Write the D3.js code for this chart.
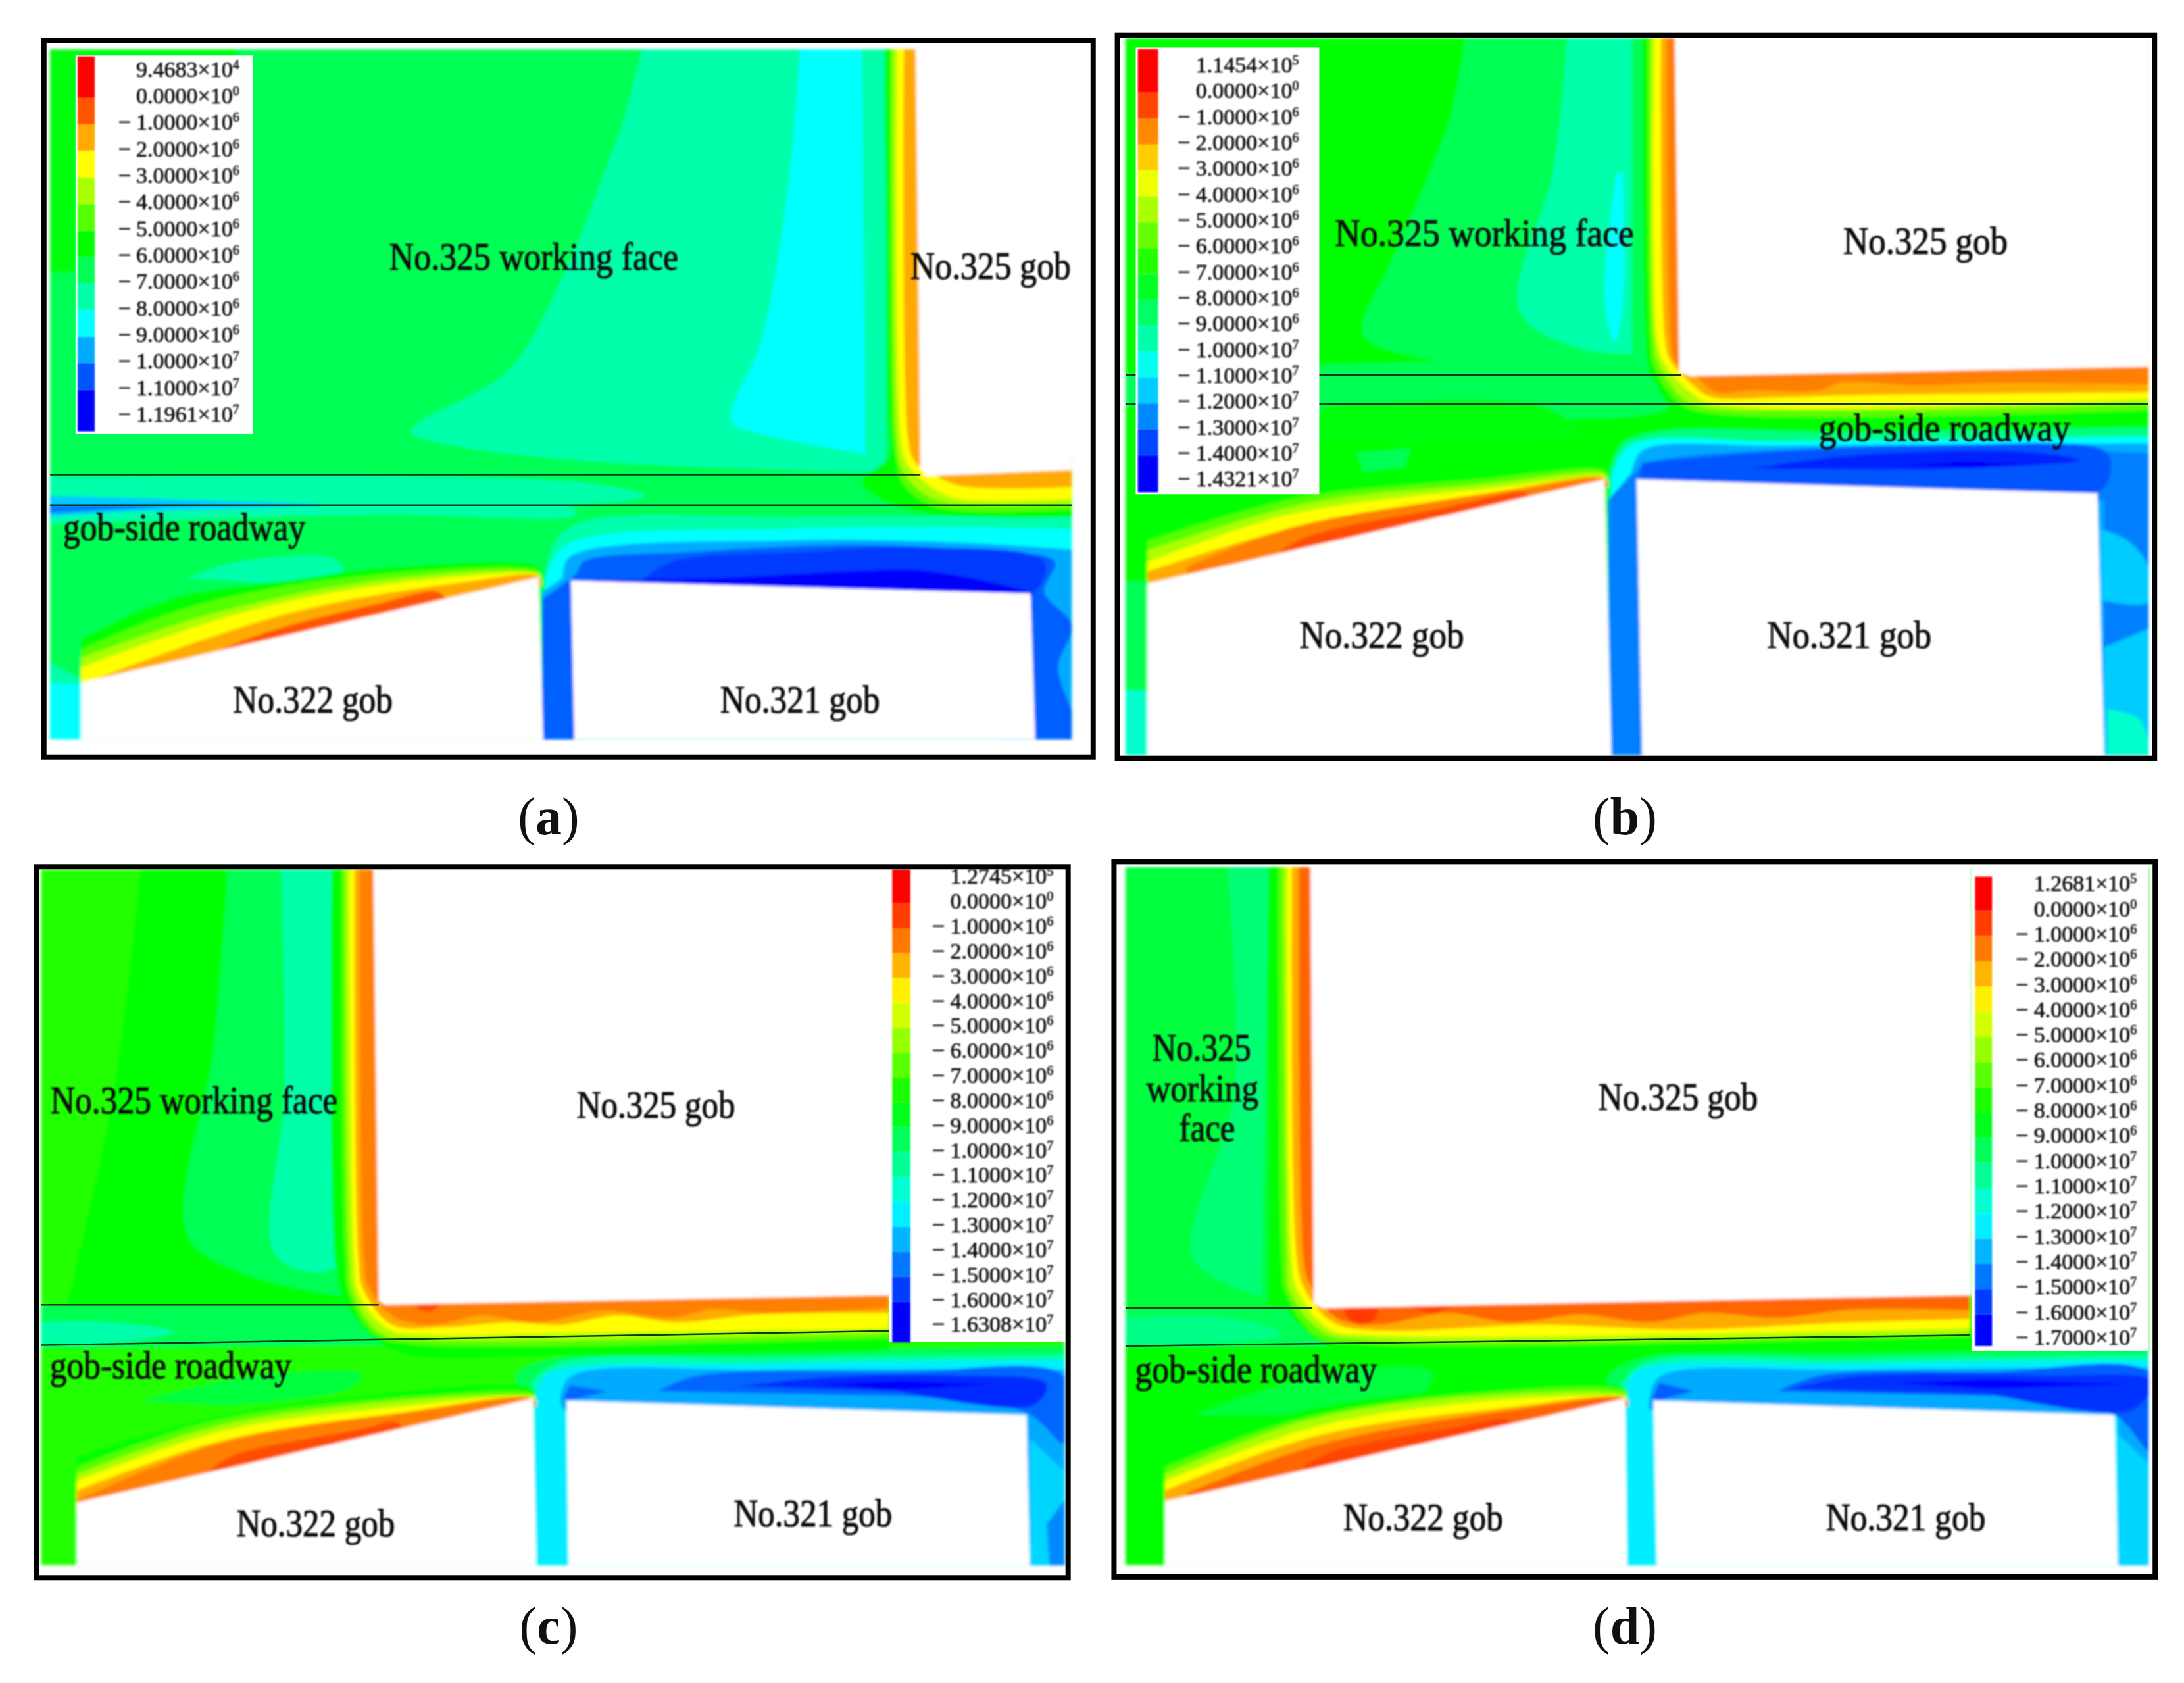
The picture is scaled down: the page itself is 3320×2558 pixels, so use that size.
<!DOCTYPE html>
<html>
<head>
<meta charset="utf-8">
<script src="https://cdn.jsdelivr.net/npm/d3@7"></script>
<style>
  html, body { margin: 0; background: #fff; }
  text { font-family: "Liberation Serif", serif; fill: #101010; }
</style>
</head>
<body>
<svg id="chart"></svg>
<script>
// Stress labels of each contour legend, top to bottom: [mantissa, exponent]
const legendValuesA = [['9.4683',4],['0.0000',0],['− 1.0000',6],['− 2.0000',6],['− 3.0000',6],['− 4.0000',6],['− 5.0000',6],['− 6.0000',6],['− 7.0000',6],['− 8.0000',6],['− 9.0000',6],['− 1.0000',7],['− 1.1000',7],['− 1.1961',7]];
const legendValuesB = [['1.1454',5],['0.0000',0],['− 1.0000',6],['− 2.0000',6],['− 3.0000',6],['− 4.0000',6],['− 5.0000',6],['− 6.0000',6],['− 7.0000',6],['− 8.0000',6],['− 9.0000',6],['− 1.0000',7],['− 1.1000',7],['− 1.2000',7],['− 1.3000',7],['− 1.4000',7],['− 1.4321',7]];
const legendValuesC = [['1.2745',5],['0.0000',0],['− 1.0000',6],['− 2.0000',6],['− 3.0000',6],['− 4.0000',6],['− 5.0000',6],['− 6.0000',6],['− 7.0000',6],['− 8.0000',6],['− 9.0000',6],['− 1.0000',7],['− 1.1000',7],['− 1.2000',7],['− 1.3000',7],['− 1.4000',7],['− 1.5000',7],['− 1.6000',7],['− 1.6308',7]];
const legendValuesD = [['1.2681',5],['0.0000',0],['− 1.0000',6],['− 2.0000',6],['− 3.0000',6],['− 4.0000',6],['− 5.0000',6],['− 6.0000',6],['− 7.0000',6],['− 8.0000',6],['− 9.0000',6],['− 1.0000',7],['− 1.1000',7],['− 1.2000',7],['− 1.3000',7],['− 1.4000',7],['− 1.5000',7],['− 1.6000',7],['− 1.7000',7]];

// Contour bands: [colour level 0 red .. 12 blue, outline in field units,
// how many trailing outline points lie hidden behind a gob and are joined straight]
const bandsA = [
  [6.2,[[25,35],[295,35],[295,50],[25,50]]],
  [6.2,[[25,35],[62,35],[62,510],[25,510]]],
  [8,[[885,35],[860,180],[830,300],[770,520],[690,720],[560,830],[550,850],[600,875],[760,905],[1000,925],[1240,935],[1240,35]],1],
  [9,[[1115,35],[1100,300],[1060,650],[1015,825],[1050,850],[1210,895],[1205,35]],1],
  [8,[[25,945],[600,945],[820,960],[890,985],[800,1003],[25,1003]]],
  [8,[[25,1005],[780,1008],[790,1025],[500,1025],[25,1045]]],
  [9.6,[[25,985],[260,995],[420,1005],[120,1020],[25,1030]]],
  [10.6,[[25,1005],[250,1003],[100,1015],[25,1022]]],
  [8,[[225,1160],[300,1125],[440,1120],[450,1145],[330,1170]]],
  [8,[[745,1150],[760,1080],[800,1040],[1100,1030],[1510,1030],[1510,1510],[735,1510]],2],
  [9,[[745,1160],[775,1090],[1100,1055],[1510,1055],[1510,1510],[738,1510]],2],
  [10,[[770,1160],[780,1115],[1100,1080],[1350,1085],[1510,1100],[1510,1510],[740,1510],[740,1190]],3],
  [10.9,[[740,1205],[790,1150],[800,1125],[950,1105],[1200,1090],[1400,1105],[1485,1125],[1470,1190],[1510,1260],[1490,1350],[1510,1440],[1510,1510],[1400,1510],[1400,1170],[1000,1170],[800,1510],[740,1510]],6],
  [11.3,[[885,1165],[930,1125],[1120,1105],[1280,1095],[1470,1125],[1450,1195],[1100,1180]]],
  [12,[[785,1165],[1000,1160],[1200,1145],[1300,1145],[1455,1195],[1100,1185]]],
  [6,[[1238,35],[1243,800],[1245,900],[1205,955],[1230,990],[1300,1022],[1510,1030],[1510,900],[1310,900],[1310,35]],3],
  [5,[[1246,35],[1250,850],[1255,910],[1265,960],[1310,1008],[1510,1014],[1510,900],[1310,900],[1310,35]],3],
  [4,[[1250,35],[1255,860],[1262,925],[1290,975],[1330,1000],[1510,1002],[1510,900],[1310,900],[1310,35]],3],
  [3,[[1256,35],[1261,860],[1270,915],[1300,960],[1340,990],[1510,992],[1510,900],[1310,900],[1310,35]],3],
  [2,[[1266,35],[1272,860],[1281,910],[1310,940],[1350,964],[1510,966],[1510,900],[1310,900],[1310,35]],3],
  [6,[[70,1290],[200,1205],[400,1160],[500,1140],[735,1136],[738,1160],[740,1175],[70,1410]],1],
  [5,[[70,1312],[220,1225],[450,1160],[735,1145],[738,1160],[740,1175],[70,1410]],1],
  [4,[[70,1330],[250,1240],[500,1165],[735,1150],[738,1160],[740,1175],[70,1410]],1],
  [3,[[70,1350],[300,1235],[520,1172],[735,1153],[738,1160],[740,1175],[70,1410]],1],
  [2,[[85,1378],[250,1290],[400,1225],[620,1170],[735,1156],[740,1175],[85,1410]],1],
  [1,[[255,1325],[330,1280],[500,1215],[590,1190],[600,1215],[270,1345]]],
  [8,[[25,1340],[70,1375],[70,1400],[25,1400]]],
  [9,[[25,1385],[72,1385],[72,1510],[25,1510]]]
];
const bandsB = [
  [7,[[530,25],[510,180],[480,300],[420,500],[380,650],[470,700],[700,735],[800,735],[790,25]],1],
  [8,[[680,25],[660,300],[610,600],[700,680],[775,690],[775,25]],1],
  [9,[[752,310],[735,580],[750,665],[762,580],[762,310]]],
  [7,[[30,735],[800,735],[830,800],[650,830],[30,800]]],
  [6.2,[[320,800],[640,800],[700,860],[500,880],[300,870]]],
  [7,[[370,900],[450,890],[440,930],[380,940]]],
  [7.5,[[740,950],[760,880],[810,855],[1100,855],[1535,845],[1535,1540],[735,1540]],2],
  [9,[[745,955],[770,885],[1000,875],[1535,865],[1535,1540],[738,1540]],2],
  [10,[[775,940],[790,895],[1000,885],[1535,880],[1535,1540],[740,1540],[740,1000]],3],
  [10.5,[[740,1000],[780,940],[800,920],[1100,890],[1535,900],[1535,1540],[1470,1540],[1470,1000],[790,1000],[790,1540],[745,1540]],6],
  [11,[[790,920],[1000,895],[1200,885],[1470,895],[1480,925],[1460,985],[785,957]]],
  [11.6,[[950,933],[1100,905],[1350,897],[1435,915],[1200,935]]],
  [12,[[1170,925],[1270,917],[1370,925],[1270,932]]],
  [9.6,[[1465,1060],[1505,1085],[1535,1140],[1535,1215],[1465,1210]]],
  [9.6,[[1470,1310],[1535,1270],[1535,1540],[1470,1540]]],
  [8.4,[[1475,1440],[1520,1460],[1535,1510],[1535,1540],[1475,1540]]],
  [6,[[790,25],[795,660],[800,720],[825,790],[850,830],[1000,830],[1535,828],[1535,700],[860,700],[860,25]],3],
  [5,[[798,25],[802,660],[808,720],[840,790],[880,815],[1535,810],[1535,700],[860,700],[860,25]],3],
  [4,[[803,25],[807,660],[815,715],[850,785],[880,803],[1535,797],[1535,700],[860,700],[860,25]],3],
  [3,[[808,25],[812,660],[822,710],[860,770],[890,795],[1535,786],[1535,700],[860,700],[860,25]],3],
  [2,[[818,25],[824,660],[832,705],[868,760],[890,781],[1000,782],[1100,778],[1535,772],[1535,700],[860,700],[860,25]],3],
  [1.5,[[826,25],[832,660],[838,705],[875,745],[900,772],[950,768],[1050,768],[1080,752],[1200,757],[1300,752],[1535,755],[1535,700],[860,700],[860,25]],3],
  [6,[[62,1060],[250,985],[500,950],[735,930],[738,955],[740,970],[62,1200]],1],
  [5,[[62,1085],[280,995],[550,955],[735,938],[738,955],[740,970],[62,1200]],1],
  [4,[[62,1105],[300,1005],[560,965],[735,944],[738,955],[740,970],[62,1200]],1],
  [3,[[62,1130],[270,1030],[580,972],[735,950],[738,955],[740,970],[62,1200]],1],
  [2,[[62,1150],[270,1060],[560,985],[735,953],[740,970],[62,1200]],1],
  [1.5,[[120,1140],[280,1055],[600,980],[735,955],[740,970],[120,1170]],1],
  [0.9,[[255,1110],[300,1075],[500,1015],[620,985],[620,1005],[270,1125]]],
  [7,[[30,1170],[66,1170],[66,1400],[30,1400]]],
  [8.4,[[30,1400],[66,1400],[66,1540],[30,1540]]]
];
const bandsC = [
  [6,[[170,30],[130,500],[60,950],[480,950],[470,30]],2],
  [7,[[300,30],[280,400],[240,800],[320,880],[470,930],[470,30]],1],
  [8,[[380,30],[385,500],[370,840],[430,880],[462,870],[462,30]],1],
  [7,[[22,950],[525,950],[540,1033],[22,1040]]],
  [8,[[22,985],[120,985],[220,1005],[120,1030],[22,1030]]],
  [6.7,[[170,1150],[330,1100],[500,1095],[480,1125],[300,1160]]],
  [7,[[740,1150],[730,1095],[790,1060],[1100,1045],[1547,1035],[1547,1510],[745,1510]],2],
  [8,[[750,1140],[750,1120],[790,1072],[1100,1060],[1547,1052],[1547,1510],[750,1510]],2],
  [9.2,[[758,1145],[775,1095],[1100,1072],[1547,1065],[1547,1510],[755,1510]],2],
  [10,[[795,1150],[810,1100],[1100,1085],[1547,1085],[1547,1510],[1490,1510],[1490,1180],[800,1170]],4],
  [10.8,[[800,1145],[810,1118],[865,1130],[810,1150]]],
  [10.8,[[940,1130],[1000,1098],[1300,1090],[1547,1100],[1547,1240],[1490,1175],[1300,1140]]],
  [11.5,[[1060,1120],[1200,1100],[1380,1097],[1520,1115],[1500,1160],[1300,1130]]],
  [12,[[1180,1115],[1300,1108],[1440,1115],[1300,1128]]],
  [9.5,[[1495,1230],[1547,1300],[1547,1510],[1495,1510]]],
  [10.4,[[1520,1410],[1547,1360],[1547,1510],[1525,1510]]],
  [6,[[455,30],[460,850],[472,930],[505,1000],[560,1050],[800,1055],[1285,1045],[1285,900],[545,900],[545,30]],3],
  [5,[[470,30],[475,850],[482,930],[520,1012],[580,1032],[1285,1018],[1285,900],[545,900],[545,30]],3],
  [4,[[475,30],[481,850],[488,930],[530,1010],[590,1022],[1285,1008],[1285,900],[545,900],[545,30]],3],
  [3,[[481,30],[488,850],[495,925],[540,1000],[600,1011],[800,1008],[1285,998],[1285,900],[545,900],[545,30]],3],
  [2,[[489,30],[495,850],[502,915],[545,990],[620,995],[720,985],[800,990],[880,970],[970,985],[1090,968],[1285,965],[1285,900],[545,900],[545,30]],3],
  [1.5,[[497,30],[503,850],[510,910],[550,975],[605,990],[680,970],[760,985],[860,960],[960,975],[1020,957],[1100,965],[1285,955],[1285,900],[545,900],[545,30]],3],
  [0.9,[[580,950],[600,940],[615,950],[600,962],[585,958]]],
  [6,[[75,1270],[250,1195],[450,1148],[755,1125],[758,1145],[760,1160],[75,1390]],1],
  [5,[[75,1290],[270,1195],[500,1150],[755,1135],[758,1145],[760,1160],[75,1390]],1],
  [4,[[75,1305],[280,1205],[520,1155],[755,1140],[758,1145],[760,1160],[75,1390]],1],
  [3,[[75,1320],[290,1215],[540,1165],[755,1143],[758,1148],[760,1160],[75,1390]],1],
  [2,[[75,1340],[290,1235],[560,1175],[755,1145],[760,1160],[75,1390]],1],
  [1.5,[[75,1360],[290,1240],[570,1175],[755,1147],[760,1160],[75,1385]],1],
  [0.9,[[270,1300],[310,1265],[500,1210],[550,1195],[560,1210],[280,1315]]]
];
const bandsD = [
  [6.7,[[30,25],[240,25],[240,950],[30,950]]],
  [7.4,[[180,25],[190,500],[130,850],[230,930],[240,25]],1],
  [7,[[30,955],[305,955],[330,1035],[30,1035]]],
  [7.6,[[30,975],[180,975],[260,1010],[150,1030],[30,1030]]],
  [6.7,[[130,1180],[320,1095],[480,1090],[470,1130],[260,1180]]],
  [7,[[745,1150],[740,1100],[790,1060],[1100,1050],[1540,1040],[1540,1510],[750,1510]],2],
  [8,[[755,1145],[755,1130],[790,1072],[1100,1062],[1540,1052],[1540,1510],[755,1510]],2],
  [9.2,[[765,1145],[780,1090],[1100,1072],[1540,1065],[1540,1510],[765,1510]],2],
  [10,[[800,1150],[815,1100],[1100,1085],[1540,1080],[1540,1510],[1490,1510],[1490,1180],[800,1170]],4],
  [10.9,[[805,1145],[815,1112],[865,1130],[815,1150]]],
  [10.9,[[990,1130],[1050,1098],[1300,1090],[1540,1095],[1540,1260],[1485,1180],[1300,1140]]],
  [11.4,[[1010,1125],[1100,1100],[1380,1097],[1540,1110],[1510,1170],[1300,1135]]],
  [12,[[1160,1113],[1300,1105],[1510,1115],[1300,1125]]],
  [9.5,[[1490,1220],[1540,1290],[1540,1510],[1490,1510]]],
  [6,[[245,25],[250,850],[258,930],[300,1010],[380,1055],[800,1052],[1272,1040],[1272,900],[330,900],[330,25]],3],
  [5,[[255,25],[260,850],[266,925],[310,1015],[385,1032],[1272,1015],[1272,900],[330,900],[330,25]],3],
  [4,[[262,25],[268,850],[272,920],[320,1005],[385,1022],[1272,1008],[1272,900],[330,900],[330,25]],3],
  [3,[[268,25],[274,850],[282,915],[330,1000],[390,1012],[800,1012],[1272,998],[1272,900],[330,900],[330,25]],3],
  [2,[[275,25],[282,850],[292,910],[335,985],[400,1002],[640,990],[850,1000],[1100,985],[1272,978],[1272,900],[330,900],[330,25]],3],
  [1.2,[[285,25],[292,850],[300,900],[340,975],[400,990],[500,965],[600,985],[700,968],[800,985],[880,965],[990,975],[1100,958],[1272,960],[1272,900],[330,900],[330,25]],3],
  [0.7,[[350,958],[375,950],[402,958],[395,980],[376,990],[358,978]]],
  [0.8,[[450,952],[480,945],[512,952],[482,968]]],
  [6,[[88,1270],[250,1185],[500,1130],[765,1125],[768,1145],[770,1160],[88,1400]],1],
  [5,[[88,1290],[280,1190],[530,1135],[765,1130],[768,1145],[770,1160],[88,1400]],1],
  [4,[[88,1305],[300,1190],[550,1140],[765,1137],[768,1145],[770,1160],[88,1400]],1],
  [3,[[88,1320],[310,1205],[570,1150],[765,1143],[768,1147],[770,1160],[88,1400]],1],
  [2,[[88,1340],[310,1225],[590,1165],[765,1145],[770,1160],[88,1400]],1],
  [1.2,[[120,1345],[310,1245],[600,1170],[765,1147],[770,1160],[130,1380]],1],
  [0.8,[[290,1290],[340,1255],[520,1205],[590,1190],[600,1205],[310,1305]]]
];

// Mined-out gob outlines, left unfilled (white) on top of the field
const gobsA = [[[1283,25],[1290,925],[1298,943],[1515,930],[1515,25]],[[70,1382],[735,1158],[742,1510],[70,1510]],[[782,1165],[1450,1193],[1457,1510],[787,1510]]];
const gobsB = [[[838,20],[845,730],[862,738],[1540,718],[1540,20]],[[62,1175],[735,955],[745,1540],[62,1540]],[[782,955],[1460,985],[1470,1540],[790,1540]]];
const gobsC = [[[517,25],[525,940],[535,948],[1290,928],[1290,25]],[[75,1365],[755,1145],[760,1510],[75,1510]],[[805,1150],[1490,1180],[1495,1510],[808,1510]]];
const gobsD = [[[302,20],[307,945],[320,955],[1275,928],[1275,20]],[[88,1362],[765,1145],[768,1510],[88,1510]],[[807,1150],[1485,1180],[1490,1510],[812,1510]]];

// Roadway boundary lines, two end points each
const linesA = [[[25,940],[1290,940]],[[25,1005],[1510,1005]]];
const linesB = [[[30,735],[848,735]],[[30,797],[1535,797]]];
const linesC = [[[22,948],[525,948]],[[22,1033],[1285,1003]]];
const linesD = [[[30,955],[305,955]],[[30,1035],[1272,1012]]];

// Region names: each one is a list of lines, [text, centre x, centre y, width]
const namesA = [[['No.325 working face',728,480,420]],[['No.325 gob',1392,500,233]],[['gob-side roadway',220,1055,352]],[['No.322 gob',407,1423,232]],[['No.321 gob',1115,1423,232]]];
const namesB = [[['No.325 working face',558,440,440]],[['No.325 gob',1207,457,242]],[['gob-side roadway',1235,850,370]],[['No.322 gob',407,1288,242]],[['No.321 gob',1095,1288,242]]];
const namesC = [[['No.325 working face',250,520,428]],[['No.325 gob',938,530,236]],[['gob-side roadway',215,1080,360]],[['No.322 gob',431,1413,236]],[['No.321 gob',1172,1392,236]]];
const namesD = [[['No.325',142,410,145],['working',143,496,165],['face',150,578,82]],[['No.325 gob',843,513,235]],[['gob-side roadway',222,1088,356]],[['No.322 gob',468,1400,235]],[['No.321 gob',1178,1400,235]]];

const captions = ['a', 'b', 'c', 'd'];
const W = 3320, H = 2558;

// Where each panel sits in the page; its field units run 0..1568 across that box
const panels = [
  { box:[50,50,1640,1120],    frame:[16,16,1541,1541], plot:[25,35,1510,1503], bands:bandsA, gobs:gobsA, lines:linesA, names:namesA, base:7,
    values:legendValuesA, legend:{ box:[62,48,320,853],   bar:[65,50,90,848],     right:300,  first:78, last:812 }, caption:[834,1268] },
  { box:[1680,40,1620,1130],  frame:[18,19,1544,1544], plot:[30,25,1535,1537], bands:bandsB, gobs:gobsB, lines:linesB, names:namesB, base:6,
    values:legendValuesB, legend:{ box:[45,45,315,987],   bar:[48,48,78,983],     right:285,  first:82, last:955 }, caption:[2470,1268] },
  { box:[40,1300,1600,1130],  frame:[15,24,1552,1524], plot:[22,30,1547,1497], bands:bandsC, gobs:gobsC, lines:linesC, names:namesC, base:5.6,
    values:legendValuesC, legend:{ box:[1285,25,1550,1026], bar:[1290,30,1317,1027], right:1530, first:45, last:990 }, caption:[834,2498] },
  { box:[1680,1300,1620,1130],frame:[13,13,1545,1522], plot:[30,25,1535,1497], bands:bandsD, gobs:gobsD, lines:linesD, names:namesD, base:6,
    values:legendValuesD, legend:{ box:[1275,20,1535,1045], bar:[1280,45,1305,1035], right:1518, first:60, last:1017 }, caption:[2470,2498] }
];

// Colour levels run over the rainbow of the FEM contour plots
const levelColor = d3.scaleLinear().domain([0, 12]).range([0, 240]);
const fill = level => d3.hsl(levelColor(level), 1, 0.5).formatHex();

const svg = d3.select('#chart').attr('width', W).attr('height', H).attr('viewBox', `0 0 ${W} ${H}`);

const defs = svg.append('defs');
defs.append('filter').attr('id', 'soft').attr('x', '-2%').attr('y', '-2%').attr('width', '104%').attr('height', '104%')
  .append('feGaussianBlur').attr('stdDeviation', 2.2);
defs.append('filter').attr('id', 'softText').attr('x', '-5%').attr('y', '-20%').attr('width', '110%').attr('height', '140%')
  .append('feGaussianBlur').attr('stdDeviation', 0.8);

svg.append('rect').attr('width', W).attr('height', H).attr('fill', '#fff');

panels.forEach((p, idx) => {
  const x = d3.scaleLinear().domain([0, 1568]).range([p.box[0], p.box[0] + p.box[2]]);
  const y = d3.scaleLinear().domain([0, 1568]).range([p.box[1], p.box[1] + p.box[3]]);
  const straight = d3.line().x(d => x(d[0])).y(d => y(d[1]));
  const curved = d3.line().x(d => x(d[0])).y(d => y(d[1])).curve(d3.curveCatmullRom.alpha(0.5));
  // Visible edge curves through its points, the hidden rest is joined straight; small boxes stay straight
  const outline = ([, pts, hidden = 0]) => {
    if (pts.length <= 4) return straight(pts) + 'Z';
    const cut = pts.length - hidden;
    return curved(pts.slice(0, cut)) + (hidden ? straight(pts.slice(cut)).replace('M', 'L') : '') + 'Z';
  };

  const g = svg.append('g');
  const clipId = `plot-${idx}`;
  const [px0, py0, px1, py1] = p.plot;
  defs.append('clipPath').attr('id', clipId).append('rect')
    .attr('x', x(px0)).attr('y', y(py0)).attr('width', x(px1) - x(px0)).attr('height', y(py1) - y(py0));

  // The stress field, gobs masked out on top
  const field = g.append('g').attr('filter', 'url(#soft)');
  const clipped = field.append('g').attr('clip-path', `url(#${clipId})`);
  clipped.append('rect').attr('x', x(px0)).attr('y', y(py0)).attr('width', x(px1) - x(px0)).attr('height', y(py1) - y(py0)).attr('fill', fill(p.base));
  clipped.selectAll('path.band').data(p.bands).join('path').attr('class', 'band')
    .attr('d', outline).attr('fill', d => fill(d[0]));
  clipped.selectAll('path.gob').data(p.gobs).join('path').attr('class', 'gob')
    .attr('d', d => straight(d) + 'Z').attr('fill', '#fff');

  // Roadway lines
  g.selectAll('path.line').data(p.lines).join('path').attr('class', 'line')
    .attr('d', straight).attr('fill', 'none').attr('stroke', '#0c3a20').attr('stroke-width', 2.5);

  // Legend: colour bar and stress ticks
  const lg = p.legend;
  const legend = g.append('g');
  legend.append('rect').attr('x', x(lg.box[0])).attr('y', y(lg.box[1]))
    .attr('width', x(lg.box[2]) - x(lg.box[0])).attr('height', y(lg.box[3]) - y(lg.box[1])).attr('fill', '#fff');
  const n = p.values.length;
  const row = d3.scaleLinear().domain([0, n - 1]).range([lg.first, lg.last]);
  const hue = d3.scaleLinear().domain([0, n - 2]).range([0, 12]);
  legend.append('g').attr('filter', 'url(#softText)').selectAll('rect').data(d3.range(n - 1)).join('rect')
    .attr('x', x(lg.bar[0])).attr('width', x(lg.bar[2]) - x(lg.bar[0]))
    .attr('y', i => y(i === 0 ? lg.bar[1] : row(i) + 4))
    .attr('height', i => y(i === n - 2 ? lg.bar[3] : row(i + 1) + 4) - y(i === 0 ? lg.bar[1] : row(i) + 4))
    .attr('fill', i => fill(hue(i)));
  const ticks = legend.append('g').attr('filter', 'url(#softText)').selectAll('text').data(p.values).join('text')
    .attr('x', x(lg.right)).attr('y', (d, i) => y(row(i)) + 11)
    .attr('text-anchor', 'end').attr('font-size', 34)
    .attr('stroke', '#101010').attr('stroke-width', 0.7);
  ticks.append('tspan').text(d => `${d[0]}×10`);
  ticks.append('tspan').attr('font-size', 20).attr('dy', -12).text(d => d[1]);

  // Region names, squeezed to the width they take in the figure
  g.append('g').attr('filter', 'url(#softText)').selectAll('text.name').data(p.names).join('text').attr('class', 'name')
    .attr('text-anchor', 'middle').attr('font-size', 60)
    .attr('stroke', '#101010').attr('stroke-width', 1.1)
    .selectAll('tspan').data(d => d).join('tspan')
    .attr('x', d => x(d[1])).attr('y', d => y(d[2]) + 17)
    .attr('textLength', d => x(d[3]) - x(0)).attr('lengthAdjust', 'spacingAndGlyphs')
    .text(d => d[0]);

  // Panel frame
  const [fx0, fy0, fx1, fy1] = p.frame;
  g.append('rect').attr('x', x(fx0)).attr('y', y(fy0)).attr('width', x(fx1) - x(fx0)).attr('height', y(fy1) - y(fy0))
    .attr('fill', 'none').attr('stroke', '#000').attr('stroke-width', 8);

  // Caption
  const cap = svg.append('text').attr('x', p.caption[0]).attr('y', p.caption[1]).attr('text-anchor', 'middle').attr('font-size', 80);
  cap.append('tspan').text('(');
  cap.append('tspan').attr('font-weight', 700).text(captions[idx]);
  cap.append('tspan').text(')');
});
</script>
</body>
</html>
